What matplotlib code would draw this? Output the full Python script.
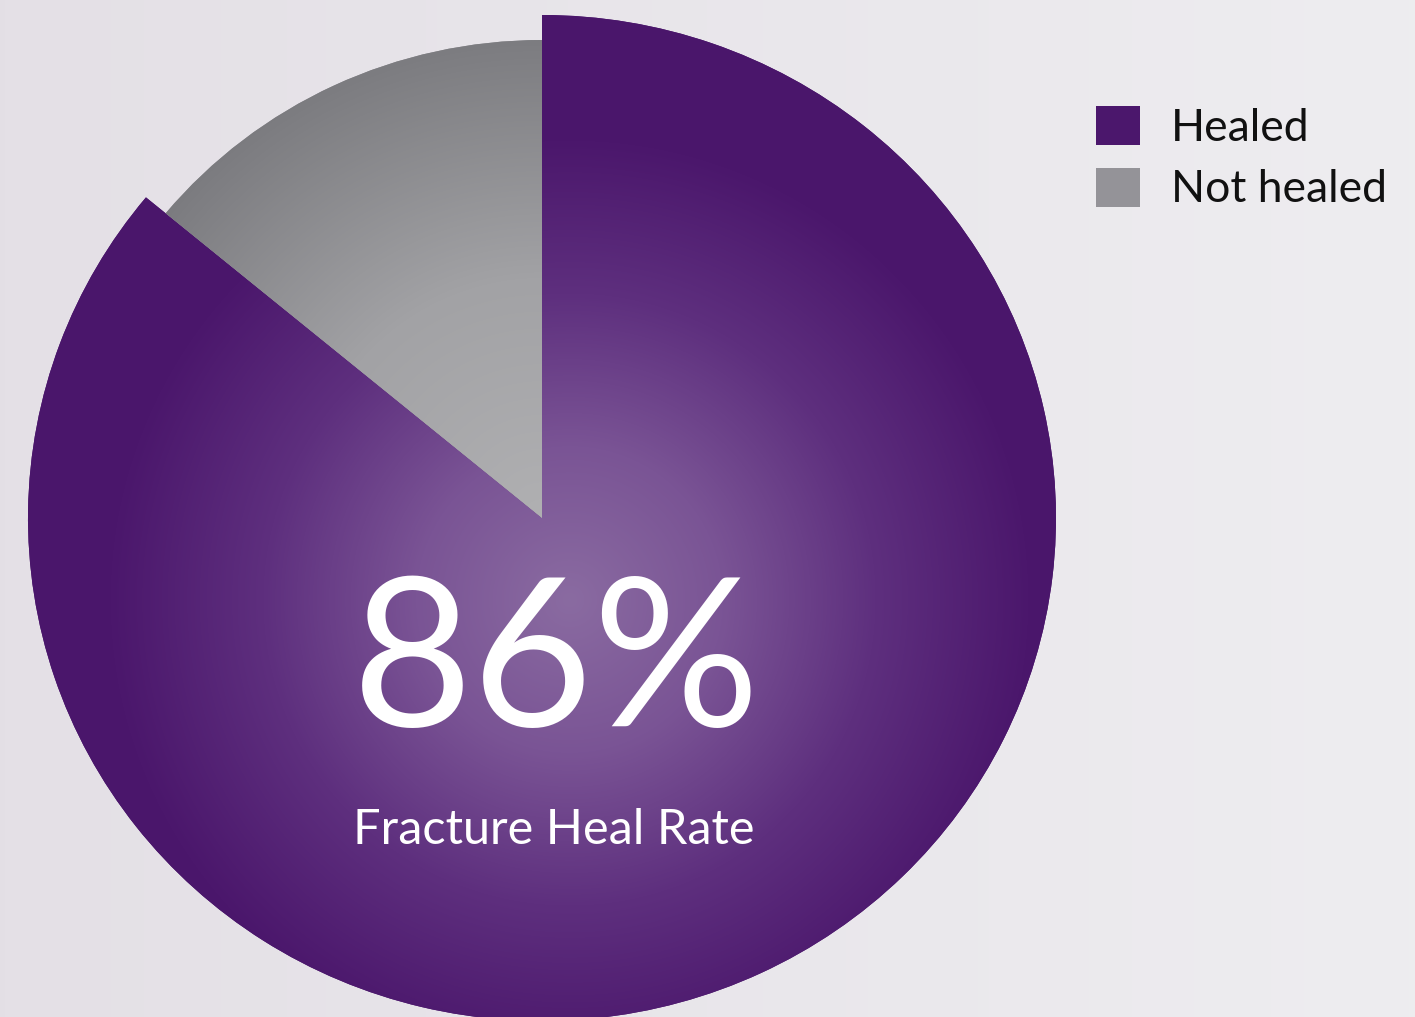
import matplotlib
matplotlib.use("Agg")
import matplotlib.pyplot as plt
import numpy as np
from matplotlib.colors import LinearSegmentedColormap

# Data
labels = ["Healed", "Not healed"]
shares = [86, 14]
headline = "86%"
caption = "Fracture Heal Rate"

W, H = 1415, 1017
cx, cy = 542, 518          # pie centre in pixels
rx, ry = 514, 503          # outer radius (px) of the healed slice

fig = plt.figure(figsize=(W / 100, H / 100), dpi=100)
ax = fig.add_axes([0, 0, 1, 1])

# pixel grid in data units (1 = healed radius)
px, py = np.meshgrid(np.arange(W) + 0.5, np.arange(H) + 0.5)
extent = [-cx / rx, (W - cx) / rx, -(H - cy) / ry, cy / ry]

# soft background
bg = LinearSegmentedColormap.from_list("bg", ["#e4e0e6", "#eeedf0"])
ax.imshow(px / W, cmap=bg, extent=extent, origin="upper", aspect="auto", zorder=0)

wedges, _ = ax.pie(shares, labels=None, startangle=90, counterclock=False,
                   colors=["#4b176c", "#949398"], radius=1.0,
                   wedgeprops=dict(linewidth=0))
wedges[1].set_radius(478 / ry)

# radial shading on each slice
purple = LinearSegmentedColormap.from_list("pu", ["#8a6ba1", "#7a5495", "#5e2f7e", "#4b176c"])
grey = LinearSegmentedColormap.from_list("gr", ["#b0b0b2", "#a2a2a5", "#7c7c80"])

d_pu = np.hypot(px - 570, py - 600) / 460
d_gr = np.hypot(px - 542, py - 518) / 480
shades = [(d_pu, purple), (d_gr, grey)]
for w, (d, cm) in zip(wedges, shades):
    im = ax.imshow(np.clip(d, 0, 1), cmap=cm, vmin=0, vmax=1, extent=extent,
                   origin="upper", aspect="auto", zorder=2)
    im.set_clip_path(w)

ax.set_aspect("auto")
ax.set_xlim(extent[0], extent[1])
ax.set_ylim(extent[2], extent[3])
ax.axis("off")

# centre text
ax.text((556 - cx) / rx, (cy - 668) / ry, headline, color="white", fontsize=150,
        family="Lato", ha="center", va="center", zorder=5)
ax.text((554 - cx) / rx, (cy - 830) / ry, caption, color="white", fontsize=35,
        family="Lato", ha="center", va="center", zorder=5)

# legend
leg = ax.legend(wedges, labels, loc="upper left",
                bbox_to_anchor=(1096 / W, 1 - 106 / H), bbox_transform=fig.transFigure,
                frameon=False, handlelength=0.98, handleheight=0.98,
                handletextpad=0.7, labelspacing=0.42, borderpad=0, borderaxespad=0,
                prop=dict(family="Lato", size=32))
for t in leg.get_texts():
    t.set_color("#111111")

fig.savefig("out.png", dpi=100)
